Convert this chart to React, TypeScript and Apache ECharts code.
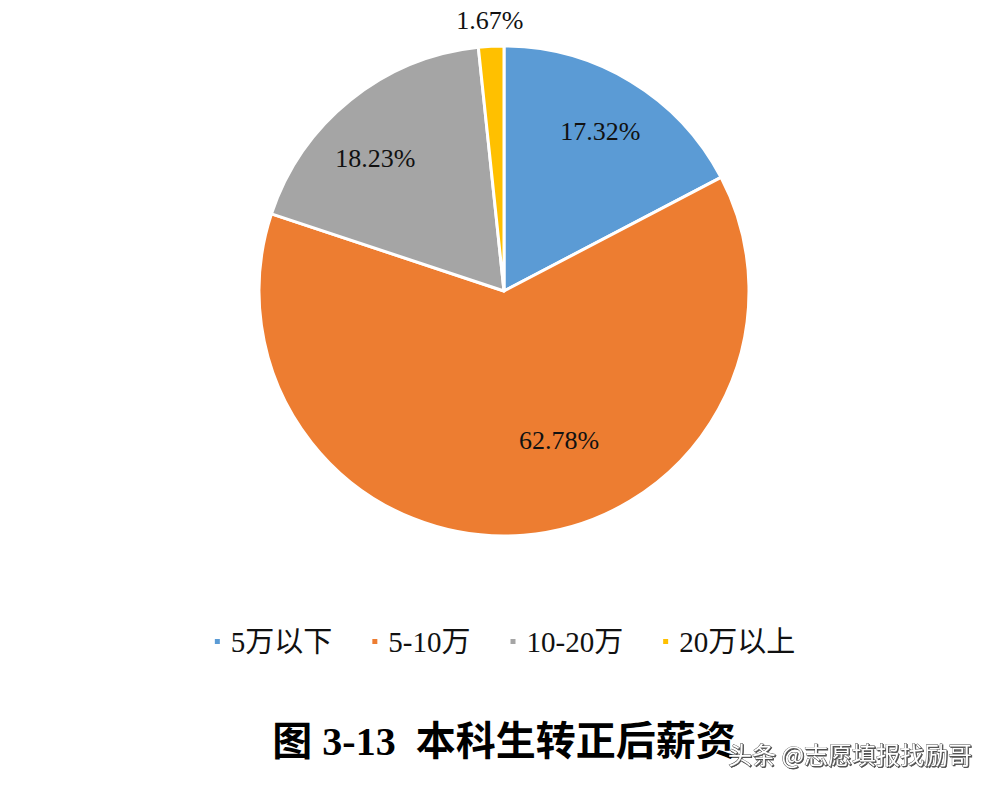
import React, { useEffect, useRef } from "react";
import * as echarts from "echarts";

const categories = ["5万以下", "5-10万", "10-20万", "20万以上"];
const shares = [17.32, 62.78, 18.23, 1.67];
const colors = ["#5B9BD5", "#ED7D31", "#A5A5A5", "#FFC000"];
const titleText = "图 3-13  本科生转正后薪资";
const watermarkText = "头条 @志愿填报找励哥";

const SERIF = "'Liberation Serif', 'Times New Roman', 'Noto Sans CJK SC', serif";

export default function App() {
  const ref = useRef<HTMLDivElement>(null);
  useEffect(() => {
    document.body.style.margin = "0";
    const chart = echarts.init(ref.current!, null, { renderer: "svg" });
    const center = [504, 291];
    const labelStyle = {
      fontFamily: SERIF,
      fontSize: 26,
      color: "#111",
    };
    const fmt = (p: any) => p.value.toFixed(2) + "%";
    const insideOffsets: Record<number, number[]> = { 1: [40, -36], 2: [-12, 12] };
    chart.setOption({
      animation: false,
      backgroundColor: "#ffffff",
      legend: {
        left: "center",
        top: 622,
        icon: "rect",
        itemWidth: 7,
        itemHeight: 7,
        itemGap: 38,
        textStyle: { fontFamily: SERIF, fontSize: 29, color: "#111", padding: [0, 0, 0, 5] },
        data: categories.map((c, i) => ({ name: c, itemStyle: { color: colors[i] } })),
      },
      graphic: [
        {
          type: "text",
          left: "center",
          top: 721,
          style: {
            text: titleText,
            font: `bold 40px ${SERIF}`,
            fill: "#000",
          },
        },
        {
          type: "text",
          x: 728,
          y: 741,
          z: 100,
          style: {
            text: watermarkText,
            font: "24px 'Noto Sans CJK SC', sans-serif",
            fill: "#ffffff",
            stroke: "#444",
            lineWidth: 0.8,
            textShadowColor: "rgba(0,0,0,0.7)",
            textShadowOffsetX: 1,
            textShadowOffsetY: 1,
            textShadowBlur: 1,
          },
        },
      ],
      series: [
        {
          type: "pie",
          center,
          radius: [0, 245],
          startAngle: 90,
          clockwise: true,
          label: { show: false },
          labelLine: { show: false },
          itemStyle: { borderColor: "#fff", borderWidth: 3 },
          data: categories.map((c, i) => ({ name: c, value: shares[i], itemStyle: { color: colors[i] } })),
        },
        {
          type: "pie",
          center,
          radius: [0, 366],
          startAngle: 90,
          clockwise: true,
          silent: true,
          itemStyle: { color: "transparent", borderWidth: 0 },
          label: { show: true, position: "inside", formatter: fmt, ...labelStyle },
          labelLine: { show: false },
          data: categories.map((c, i) => ({
            name: c,
            value: shares[i],
            itemStyle: { color: "transparent" },
            label: i === 3 ? { show: false } : insideOffsets[i] ? { offset: insideOffsets[i] } : {},
          })),
        },
        {
          type: "pie",
          center,
          radius: [0, 536],
          startAngle: 90,
          clockwise: true,
          silent: true,
          itemStyle: { color: "transparent", borderWidth: 0 },
          label: { show: true, position: "inside", formatter: fmt, ...labelStyle },
          labelLine: { show: false },
          data: categories.map((c, i) => ({
            name: c,
            value: shares[i],
            itemStyle: { color: "transparent" },
            label: i === 3 ? {} : { show: false },
          })),
        },
      ],
    });
    return () => chart.dispose();
  }, []);
  return <div ref={ref} style={{ width: 1008, height: 790 }} />;
}
